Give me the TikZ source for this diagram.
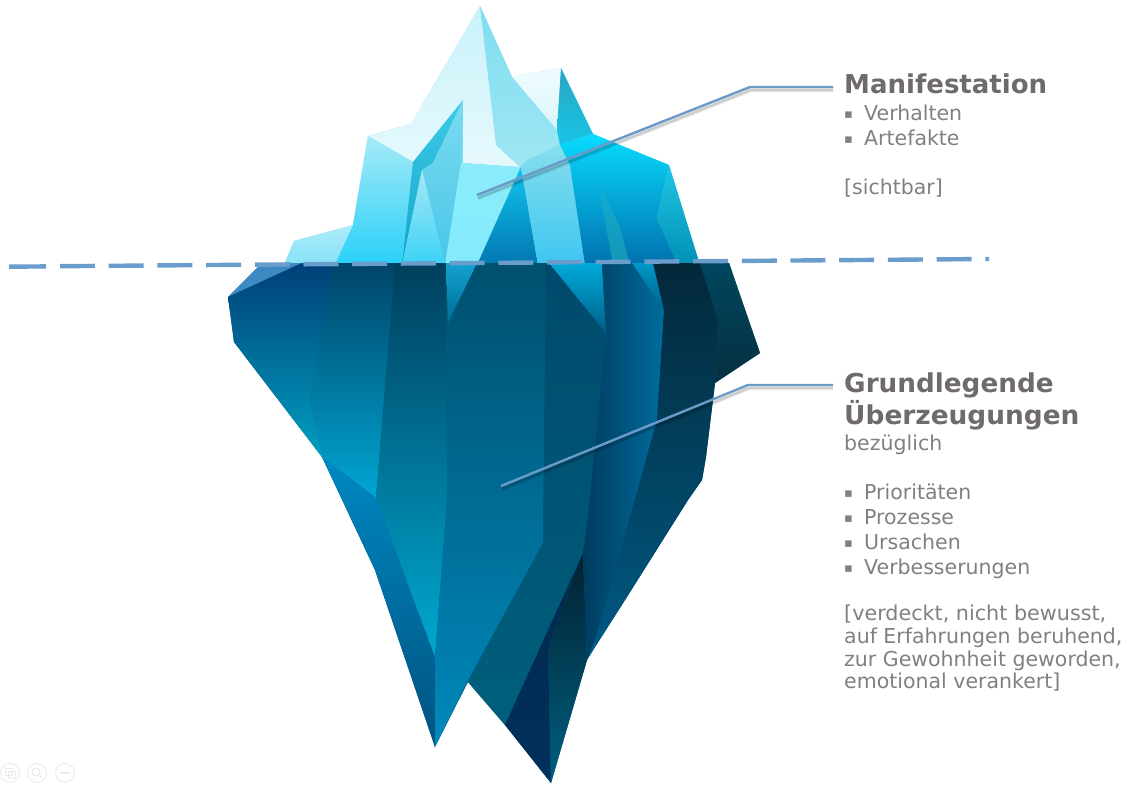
\documentclass[tikz,border=0pt]{standalone}
\usepackage{fontspec}
\usepackage{graphicx}
\setmainfont{DejaVu Sans}
\definecolor{headcol}{HTML}{6F6B6B}
\definecolor{bodycol}{HTML}{808080}
\definecolor{leadcol}{HTML}{6C9AC8}
\definecolor{watercol}{HTML}{6A9CCC}
\definecolor{iconcol}{HTML}{EBEBEB}
\definecolor{topbase}{HTML}{7ADDF2}
\definecolor{lowbase}{HTML}{005A80}
\newcommand{\fc}[3]{\definecolor{c#1}{HTML}{#1}\definecolor{c#2}{HTML}{#2}\shade[top color=c#1,bottom color=c#2] #3;}
\newcommand{\fh}[3]{\definecolor{c#1}{HTML}{#1}\definecolor{c#2}{HTML}{#2}\shade[left color=c#1,right color=c#2] #3;}
\newcommand{\itemline}[1]{\makebox[20pt][l]{\raisebox{2pt}{\fontsize{13}{13}\selectfont ▪}}#1}
\tikzset{
 head/.style={anchor=base west,inner sep=0pt,font=\fontsize{26}{26}\selectfont\bfseries,text=headcol},
 body/.style={anchor=base west,inner sep=0pt,font=\fontsize{20.5}{21}\selectfont,text=bodycol},
 leader/.style={draw=leadcol,line width=2.4pt,line join=round},
 leadshadow/.style={draw=black,line width=4.5pt,opacity=.07,line join=round},
 leadshadowcore/.style={draw=black,line width=2.4pt,opacity=.14,line join=round},
 water/.style={draw=watercol,line width=4.4pt},
 icon/.style={draw=iconcol,line width=1pt,circle,minimum size=19pt,inner sep=0pt}
}
\begin{document}
\begin{tikzpicture}[x=1pt,y=-1pt]
\useasboundingbox (0,0) rectangle (1131,784);
% ---- base silhouettes (close the seams between facets)
\fill[topbase] (480,6)--(411,124)--(368,136)--(353,225)--(294,241)--(284,265)--(700,265)--(669,165)--(593,134)--(561,68)--(512,77)--cycle;
\fill[lowbase] (262,263)--(228,297)--(234,342)--(322,457)--(375,570)--(435,747)--(468,682)--(505,725)--(551,783)--(587,660)--(595,647)--(625,600)--(688,500)--(702,480)--(706,457)--(715,383)--(760,353)--(729,263)--cycle;
% ---- above water
\fc{F0FCFF}{D8F5FB}{(512,77)--(561,68)--(557,132)--cycle}
\fc{C9F2FA}{E6F9FD}{(480,6)--(411,124)--(368,136)--(413,162)--(463,100)--(463,163)--(520,167)--(497,146)--(490,60)--cycle}
\fc{7FDDF0}{9FE6F4}{(480,6)--(512,77)--(557,130)--(560,145)--(528,160)--(520,167)--(496,145)--cycle}
\fc{2AA6C2}{18C4E6}{(561,68)--(593,134)--(560,145)--(557,130)--cycle}
\fc{AEECFA}{86E2F8}{(353,225)--(294,241)--(284,265)--(335,265)--cycle}
\fc{A6EAF8}{28D0F8}{(368,136)--(413,162)--(402,265)--(335,265)--(353,225)--cycle}
\fc{3CCBE8}{14A4C8}{(413,162)--(463,100)--(433,163)--(422,170)--(402,265)--cycle}
\fc{7CDBF0}{48C6E8}{(463,100)--(461,163)--(445,265)--(422,170)--(433,163)--cycle}
\fc{A8E8F6}{3AD2F6}{(422,170)--(445,265)--(402,265)--cycle}
\fc{8CECFB}{82EBFC}{(461,163)--(520,167)--(477,265)--(445,265)--cycle}
\fc{0FC6EE}{0276B0}{(521,167)--(477,265)--(538,265)--cycle}
\fc{86DEEE}{3EC6F0}{(521,167)--(528,160)--(560,145)--(570,165)--(585,265)--(538,265)--cycle}
\fc{08DCFF}{0070AE}{(560,145)--(593,134)--(669,165)--(657,218)--(678,265)--(585,265)--(570,165)--cycle}
\fc{20C6E6}{0090B4}{(669,165)--(700,265)--(678,265)--(657,218)--cycle}
\fc{12AFD6}{1494B4}{(598,182)--(620,227)--(630,265)--(613,265)--cycle}
% ---- below water
\fc{3C88C2}{3F8CC4}{(262,263)--(302,263)--(228,297)--cycle}
\fc{003F78}{00A0C0}{(302,263)--(340,263)--(322,457)--(234,342)--(228,297)--cycle}
\fc{004468}{00A6D2}{(334,263)--(395,263)--(376,498)--(322,457)--(309,400)--cycle}
\fc{0088C2}{00527F}{(322,457)--(376,498)--(435,657)--(435,747)--(375,570)--cycle}
\fc{003F5E}{00A8D0}{(395,263)--(446,263)--(447,500)--(435,657)--(376,498)--cycle}
\fc{00506E}{0088BC}{(446,263)--(546,263)--(543,543)--(467,682)--(435,747)--(435,657)--(447,500)--cycle}
\fc{12A2D2}{006C92}{(446,263)--(477,263)--(448,323)--cycle}
\fc{004A6C}{005F7C}{(546,263)--(602,263)--(606,333)--(588,517)--(583,553)--(505,725)--(468,682)--(543,543)--cycle}
\fc{00AADA}{005F88}{(549,263)--(602,263)--(606,333)--cycle}
\fc{012A4E}{00305C}{(583,553)--(505,725)--(551,783)--(548,647)--cycle}
\fc{022030}{006080}{(583,553)--(548,647)--(551,783)--(587,660)--cycle}
\fh{003C60}{006C9E}{(602,263)--(653,263)--(664,310)--(657,420)--(632,510)--(595,640)--(587,660)--(583,553)--(588,517)--(606,333)--cycle}
\fc{0098C8}{00608A}{(632,263)--(653,263)--(664,310)--cycle}
\fc{03283A}{005A84}{(653,263)--(700,263)--(718,320)--(715,383)--(706,457)--(702,480)--(688,500)--(625,600)--(595,647)--(587,660)--(595,640)--(632,510)--(657,420)--(664,310)--cycle}
\fc{00465F}{063040}{(700,263)--(729,263)--(760,353)--(715,383)--(718,320)--cycle}
% ---- water line
\coordinate (wl) at (9,266.7);
\coordinate (wl2) at (46,266.4);
\coordinate (wm) at (60,266.2);
\coordinate (wr) at (989,259);
\draw[water] (wl)--(wl2);
\draw[water,dash pattern=on 35pt off 13.7pt] (wm)--(wr);
% ---- texts
\node[head] (manifest) at (844,93) {Manifestation};
\node[body] (verh) at (844,120) {\itemline{Verhalten}};
\node[body] (arte) at (844,145) {\itemline{Artefakte}};
\node[body] (sicht) at (844,194) {[sichtbar]};
\node[head] (grund) at (844,392) {\scalebox{1.01}[1]{Grundlegende}};
\node[head] (ueber) at (844,424) {\scalebox{1.015}[1]{Überzeugungen}};
\node[body] (bezug) at (844,450) {bezüglich};
\node[body] (prio) at (844,499) {\itemline{Prioritäten}};
\node[body] (proz) at (844,524) {\itemline{Prozesse}};
\node[body] (ursa) at (844,549) {\itemline{Ursachen}};
\node[body] (verb) at (844,574) {\itemline{Verbesserungen}};
\node[body] (v1) at (844,620) {\scalebox{1.01}[1]{[verdeckt, nicht bewusst,}};
\node[body] (v2) at (844,643) {auf Erfahrungen beruhend,};
\node[body] (v3) at (844,666) {zur Gewohnheit geworden,};
\node[body] (v4) at (844,688) {emotional verankert]};
% ---- leaders
\coordinate (mA) at (477,195);
\coordinate (mB) at (750,87);
\coordinate (mC) at ([xshift=-11pt]manifest.west |- mB);
\coordinate (gA) at (501,486);
\coordinate (gB) at (748,385);
\coordinate (gC) at ([xshift=-11pt]grund.west |- gB);
\draw[leadshadow] ([shift={(1,3)}]mA)--([shift={(1,3)}]mB)--([shift={(0,3)}]mC);
\draw[leadshadowcore] ([shift={(1,3)}]mA)--([shift={(1,3)}]mB)--([shift={(0,3)}]mC);
\draw[leader] (mA)--(mB)--(mC);
\draw[leadshadow] ([shift={(1,3)}]gA)--([shift={(1,3)}]gB)--([shift={(0,3)}]gC);
\draw[leadshadowcore] ([shift={(1,3)}]gA)--([shift={(1,3)}]gB)--([shift={(0,3)}]gC);
\draw[leader] (gA)--(gB)--(gC);
% ---- faint player icons
\node[icon] (ic1) at (10,773) {};
\node[icon] (ic2) at (37,773) {};
\node[icon] (ic3) at (65,773) {};
\draw[iconcol,line width=1pt] (5,768) rectangle (12,775) (8,771) rectangle (15,778);
\draw[iconcol,line width=1.2pt] (36,772) circle (4pt) (39,775)--(42,778);
\draw[iconcol,line width=1.2pt] (60,773)--(70,773);
\end{tikzpicture}
\end{document}
